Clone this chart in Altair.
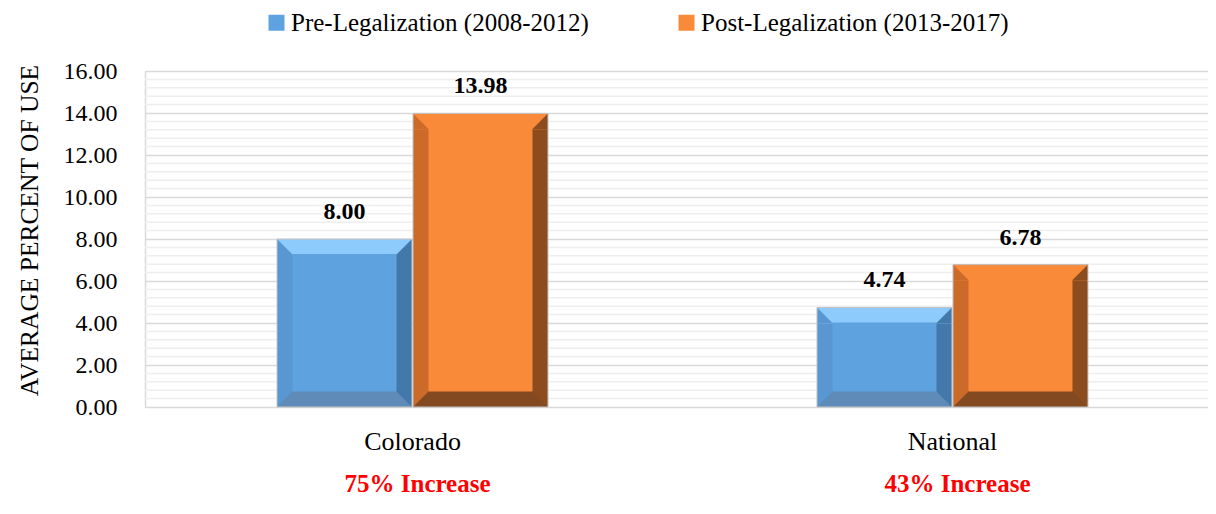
import altair as alt
import pandas as pd

# ---------------- data ----------------
categories = ["Colorado", "National"]
series_names = ["Pre-Legalization (2008-2012)", "Post-Legalization (2013-2017)"]
pre_values = [8.00, 4.74]
post_values = [13.98, 6.78]
increase_labels = ["75% Increase", "43% Increase"]
y_major = [0, 2, 4, 6, 8, 10, 12, 14, 16]
y_minor = [0.4, 0.8, 1.2, 1.6, 2.4, 2.8, 3.2, 3.6, 4.4, 4.8, 5.2, 5.6,
           6.4, 6.8, 7.2, 7.6, 8.4, 8.8, 9.2, 9.6, 10.4, 10.8, 11.2, 11.6,
           12.4, 12.8, 13.2, 13.6, 14.4, 14.8, 15.2, 15.6]

rows = []
for i, c in enumerate(categories):
    rows.append({"category": c, "series": series_names[0], "value": pre_values[i]})
    rows.append({"category": c, "series": series_names[1], "value": post_values[i]})
df = pd.DataFrame(rows)
df_inc = pd.DataFrame({"category": categories, "label": increase_labels})
df_minor = pd.DataFrame({"value": y_minor})

# ---------------- styles ----------------
FONT = "Liberation Serif"
W = 135   # bar width (px)
B = 16    # bevel size (px)
styles = {
    series_names[0]: dict(offset=-68, face="#5FA2E0", left="#5897D1", right="#4379AA",
                          top="#8CCBFB", bottom="#5E8BB8"),
    series_names[1]: dict(offset=68, face="#F98A3A", left="#CC6A29", right="#8C4C1E",
                          top="#F98A3A", bottom="#834A22"),
}

xscale = alt.Scale(paddingInner=0.5, paddingOuter=0.2343, align=0.5237)
xaxis = alt.Axis(title=None, ticks=False, tickSize=0, domain=False, grid=False,
                 labelAngle=0, labelFont=FONT, labelFontSize=26, labelColor="#000000",
                 labelPadding=21, labelBaseline="top")
yscale = alt.Scale(domain=[0, 16], nice=False)
yaxis = alt.Axis(values=y_major, format=".2f", grid=True, gridColor="#D9D9D9", gridWidth=1.5,
                 domain=True, domainColor="#D9D9D9", domainWidth=1.5,
                 ticks=False, tickSize=0, labelPadding=28, labelFont=FONT,
                 labelFontSize=24, labelColor="#000000",
                 title="AVERAGE PERCENT OF USE", titleFont=FONT, titleFontSize=25.5,
                 titleFontWeight="normal", titleColor="#000000", titleX=-116, titleY=159,
                 titleAngle=270, titleAlign="center", titleBaseline="middle")


def X():
    return alt.X("category:N", sort=categories, scale=xscale, axis=xaxis)


def Y(field):
    return alt.Y(f"{field}:Q", scale=yscale, axis=yaxis)


layers = []

# minor gridlines
layers.append(
    alt.Chart(df_minor).mark_rule(color="#EEEEEE", strokeWidth=1.5).encode(y=Y("value"))
)

color_scale = alt.Scale(domain=series_names,
                        range=[styles[s]["face"] for s in series_names])
legend = alt.Legend(orient="none", legendX=119, legendY=-61, direction="horizontal",
                    title=None, symbolType="square", symbolSize=256, symbolStrokeWidth=0,
                    labelFont=FONT, labelFontSize=25, labelColor="#000000", labelLimit=0,
                    labelOffset=2, columnPadding=85, padding=0)

tl = "M-1,-1 L-1,1 L1,1 Z"   # top-left corner, left-strip part
tr = "M1,-1 L1,1 L-1,1 Z"    # top-right corner, right-strip part
bl = "M-1,-1 L1,-1 L-1,1 Z"  # bottom-left corner, left-strip part
br = "M-1,-1 L1,-1 L1,1 Z"   # bottom-right corner, right-strip part

for s in series_names:
    st = styles[s]
    o = st["offset"]
    base = alt.Chart(df).transform_filter(alt.datum.series == s).transform_calculate(zero="0")
    # full bar (right bevel colour)
    layers.append(base.mark_bar(width=W, xOffset=o, color=st["right"]).encode(
        x=X(), y=Y("value"), y2=alt.Y2("zero:Q")))
    # left strip
    layers.append(base.mark_bar(width=B, xOffset=o - W / 2 + B / 2, color=st["left"]).encode(
        x=X(), y=Y("value"), y2=alt.Y2("zero:Q")))
    # top strip
    layers.append(base.mark_bar(width=W, xOffset=o, y2Offset=B, color=st["top"]).encode(
        x=X(), y=Y("value"), y2=alt.Y2("value:Q")))
    # bottom strip
    layers.append(base.mark_bar(width=W, xOffset=o, yOffset=-B, color=st["bottom"]).encode(
        x=X(), y=Y("zero"), y2=alt.Y2("zero:Q")))
    # face (slightly overlapping the strips to hide seams)
    layers.append(base.mark_bar(width=W - 2 * B + 1, xOffset=o, yOffset=B - 1,
                                y2Offset=-B + 0.5).encode(
        x=X(), y=Y("value"), y2=alt.Y2("zero:Q"),
        color=alt.Color("series:N", scale=color_scale, legend=legend)))
    # corner triangles
    for path, col, dx, field, dy in [
        (tl, st["left"], o - W / 2 + B / 2, "value", B / 2),
        (tr, st["right"], o + W / 2 - B / 2, "value", B / 2),
        (bl, st["left"], o - W / 2 + B / 2, "zero", -B / 2),
        (br, st["right"], o + W / 2 - B / 2, "zero", -B / 2),
    ]:
        layers.append(base.mark_point(shape=path, size=B * B, filled=True, fill=col,
                                      strokeWidth=0, strokeOpacity=0, opacity=1,
                                      xOffset=dx, yOffset=dy).encode(x=X(), y=Y(field)))
    # thin outline
    layers.append(base.mark_bar(width=W, xOffset=o, fillOpacity=0, stroke="#C4C4C4",
                                strokeWidth=1).encode(
        x=X(), y=Y("value"), y2=alt.Y2("zero:Q")))
    # value labels
    layers.append(base.mark_text(font=FONT, fontSize=24, fontWeight="bold", color="#000000",
                                 xOffset=o, yOffset=-27, baseline="middle").encode(
        x=X(), y=Y("value"), text=alt.Text("value:Q", format=".2f")))

# red increase labels
layers.append(
    alt.Chart(df_inc).transform_calculate(zero="0").mark_text(
        font=FONT, fontSize=25, fontWeight="bold", color="#FF0000",
        xOffset=5, yOffset=77, baseline="middle").encode(
        x=X(), y=Y("zero"), text="label:N")
)

chart = alt.layer(*layers).properties(
    width=1063, height=336,
    padding={"left": 137, "top": 63, "right": 0, "bottom": 99},
    autosize=alt.AutoSizeParams(type="none"),
).configure_view(stroke=None).configure(background="#FFFFFF")

chart.save("out.html", embed_options={"renderer": "svg", "actions": False})
